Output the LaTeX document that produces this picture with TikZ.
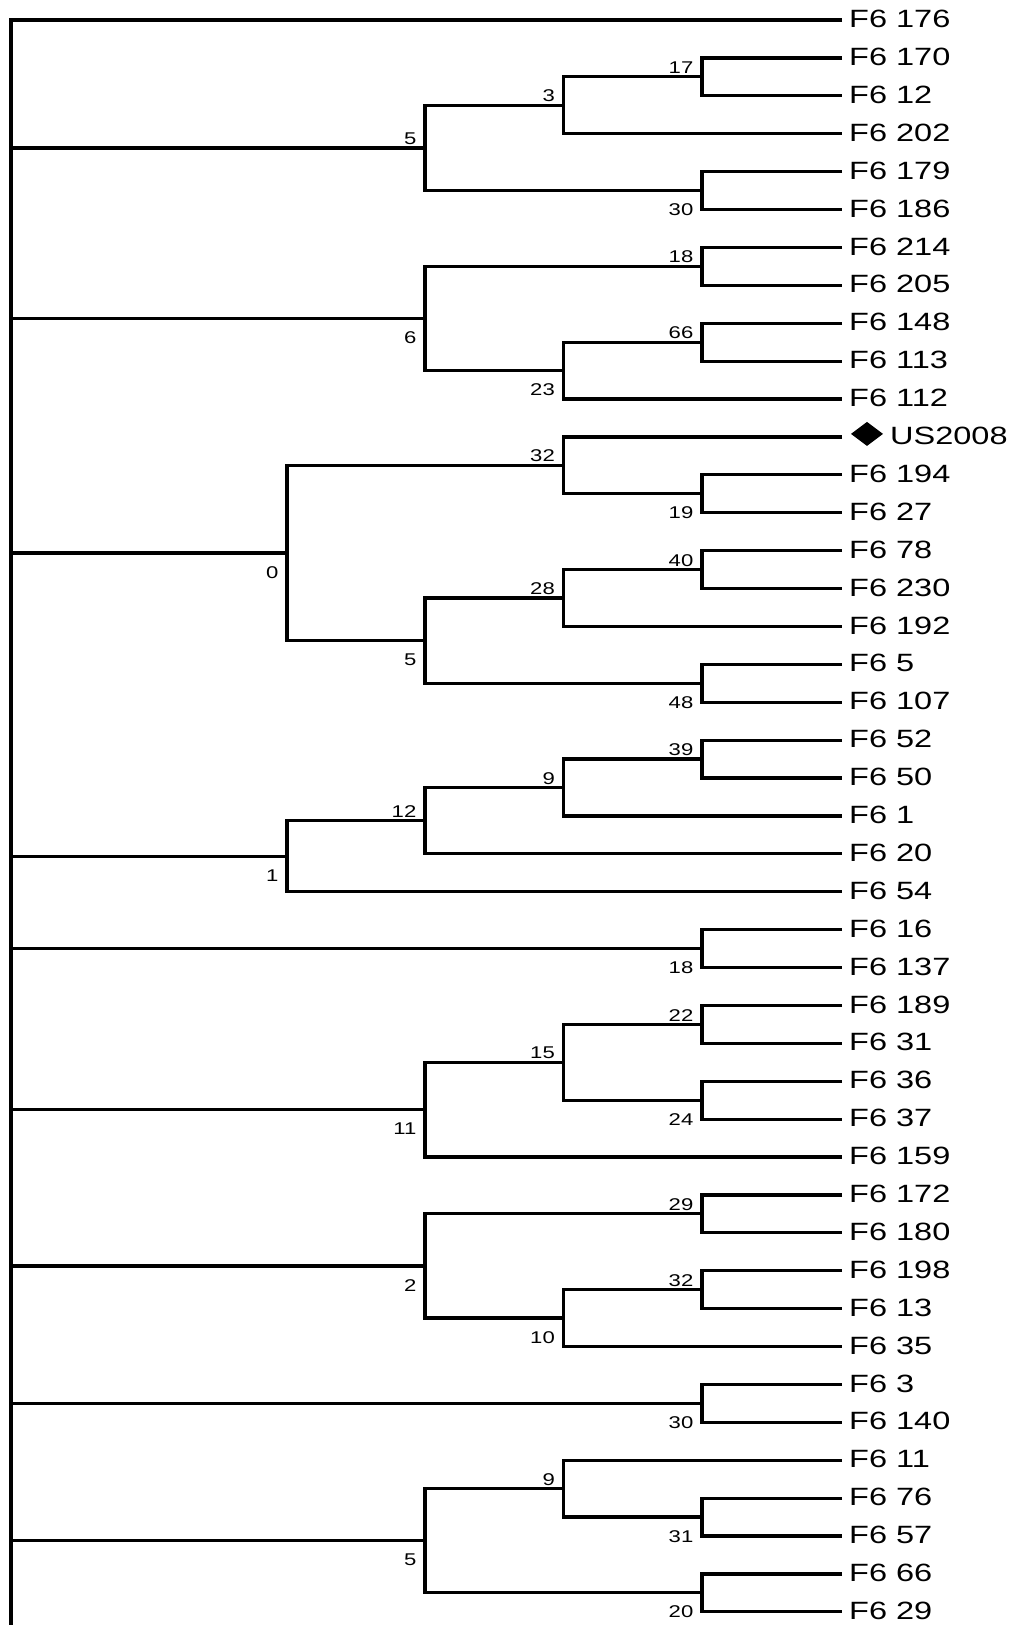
\documentclass[tikz,border=0pt]{standalone}
\usepackage{fontspec}
\newfontfamily\leaffont[FakeStretch=1.3]{Liberation Sans}
\begin{document}
\begin{tikzpicture}[x=1pt,y=-1pt,
  branch/.style={line width=3.2pt,line join=miter,line cap=butt},
  rootline/.style={line width=3.6pt,line cap=rect},
  leaflab/.style={anchor=west,inner sep=0pt,font=\leaffont\fontsize{25}{25}\selectfont},
  bsup/.style={anchor=south east,inner sep=0pt,font=\leaffont\fontsize{17}{17}\selectfont},
  bsdn/.style={anchor=north east,inner sep=0pt,font=\leaffont\fontsize{17}{17}\selectfont}]
\useasboundingbox (0,0) rectangle (1016,1625);
\fill[white] (0,0) rectangle (1016,1625);
% leaves
\foreach \lab/\dx [count=\i from 0] in {F6 176/0,F6 170/0,F6 12/0,F6 202/0,F6 179/0,F6 186/0,F6 214/0,F6 205/0,F6 148/0,F6 113/0,F6 112/0,US2008/41,F6 194/0,F6 27/0,F6 78/0,F6 230/0,F6 192/0,F6 5/0,F6 107/0,F6 52/0,F6 50/0,F6 1/0,F6 20/0,F6 54/0,F6 16/0,F6 137/0,F6 189/0,F6 31/0,F6 36/0,F6 37/0,F6 159/0,F6 172/0,F6 180/0,F6 198/0,F6 13/0,F6 35/0,F6 3/0,F6 140/0,F6 11/0,F6 76/0,F6 57/0,F6 66/0,F6 29/0}{
  \coordinate (l\i) at (842,{20+37.9*\i});
  \node[leaflab] (t\i) at (849+\dx,{19+37.9*\i}) {\lab};
}
\coordinate (dm) at (867,{17+37.9*11});
\fill (dm) +(-16,0) -- +(0,-12) -- +(16,0) -- +(0,12) -- cycle;
% internal nodes
\def\yy#1{{20+37.9*#1}}
\coordinate (nC) at (702,\yy{1.5});
\coordinate (nB) at (563.5,\yy{2.25});
\coordinate (nD) at (702,\yy{4.5});
\coordinate (nA) at (425,\yy{3.375});
\coordinate (nF) at (702,\yy{6.5});
\coordinate (nH) at (702,\yy{8.5});
\coordinate (nG) at (563.5,\yy{9.25});
\coordinate (nE) at (425,\yy{7.875});
\coordinate (nK) at (702,\yy{12.5});
\coordinate (nJ) at (563.5,\yy{11.75});
\coordinate (nN) at (702,\yy{14.5});
\coordinate (nM) at (563.5,\yy{15.25});
\coordinate (nO) at (702,\yy{17.5});
\coordinate (nL) at (425,\yy{16.375});
\coordinate (nI) at (287,\yy{14.0625});
\coordinate (nS) at (702,\yy{19.5});
\coordinate (nR) at (563.5,\yy{20.25});
\coordinate (nQ) at (425,\yy{21.125});
\coordinate (nP) at (287,\yy{22.0625});
\coordinate (nT) at (702,\yy{24.5});
\coordinate (nW) at (702,\yy{26.5});
\coordinate (nX) at (702,\yy{28.5});
\coordinate (nV) at (563.5,\yy{27.5});
\coordinate (nU) at (425,\yy{28.75});
\coordinate (nZ) at (702,\yy{31.5});
\coordinate (nAB) at (702,\yy{33.5});
\coordinate (nAA) at (563.5,\yy{34.25});
\coordinate (nY) at (425,\yy{32.875});
\coordinate (nAC) at (702,\yy{36.5});
\coordinate (nAF) at (702,\yy{39.5});
\coordinate (nAE) at (563.5,\yy{38.75});
\coordinate (nAG) at (702,\yy{41.5});
\coordinate (nAD) at (425,\yy{40.125});
\coordinate (rt) at (11,20);
\coordinate (rb) at (11,1650);
% branches
\draw[branch] (l1) -| (nC) |- (l2);
\draw[branch] (nC) -| (nB) |- (l3);
\draw[branch] (l4) -| (nD) |- (l5);
\draw[branch] (nB) -| (nA) |- (nD);
\draw[branch] (l6) -| (nF) |- (l7);
\draw[branch] (l8) -| (nH) |- (l9);
\draw[branch] (nH) -| (nG) |- (l10);
\draw[branch] (nF) -| (nE) |- (nG);
\draw[branch] (l12) -| (nK) |- (l13);
\draw[branch] (l11) -| (nJ) |- (nK);
\draw[branch] (l14) -| (nN) |- (l15);
\draw[branch] (nN) -| (nM) |- (l16);
\draw[branch] (l17) -| (nO) |- (l18);
\draw[branch] (nM) -| (nL) |- (nO);
\draw[branch] (nJ) -| (nI) |- (nL);
\draw[branch] (l19) -| (nS) |- (l20);
\draw[branch] (nS) -| (nR) |- (l21);
\draw[branch] (nR) -| (nQ) |- (l22);
\draw[branch] (nQ) -| (nP) |- (l23);
\draw[branch] (l24) -| (nT) |- (l25);
\draw[branch] (l26) -| (nW) |- (l27);
\draw[branch] (l28) -| (nX) |- (l29);
\draw[branch] (nW) -| (nV) |- (nX);
\draw[branch] (nV) -| (nU) |- (l30);
\draw[branch] (l31) -| (nZ) |- (l32);
\draw[branch] (l33) -| (nAB) |- (l34);
\draw[branch] (nAB) -| (nAA) |- (l35);
\draw[branch] (nZ) -| (nY) |- (nAA);
\draw[branch] (l36) -| (nAC) |- (l37);
\draw[branch] (l39) -| (nAF) |- (l40);
\draw[branch] (l38) -| (nAE) |- (nAF);
\draw[branch] (l41) -| (nAG) |- (l42);
\draw[branch] (nAE) -| (nAD) |- (nAG);
% root
\draw[branch] (l0) -- (rt);
\foreach \n in {nA,nE,nI,nP,nT,nU,nY,nAC,nAD}{
  \draw[branch] (\n) -- (\n -| rt);
}
\draw[rootline] (rt) -- (rb);
% bootstrap labels
\node[bsup] (bC) at ([shift={(-8.5,-3)}]nC) {17};
\node[bsup] (bB) at ([shift={(-8.5,-3)}]nB) {3};
\node[bsdn] (bD) at ([shift={(-8.5,13)}]nD) {30};
\node[bsup] (bA) at ([shift={(-8.5,-3)}]nA) {5};
\node[bsup] (bF) at ([shift={(-8.5,-3)}]nF) {18};
\node[bsup] (bH) at ([shift={(-8.5,-3)}]nH) {66};
\node[bsdn] (bG) at ([shift={(-8.5,13)}]nG) {23};
\node[bsdn] (bE) at ([shift={(-8.5,13)}]nE) {6};
\node[bsdn] (bK) at ([shift={(-8.5,13)}]nK) {19};
\node[bsup] (bJ) at ([shift={(-8.5,-3)}]nJ) {32};
\node[bsup] (bN) at ([shift={(-8.5,-3)}]nN) {40};
\node[bsup] (bM) at ([shift={(-8.5,-3)}]nM) {28};
\node[bsdn] (bO) at ([shift={(-8.5,13)}]nO) {48};
\node[bsdn] (bL) at ([shift={(-8.5,13)}]nL) {5};
\node[bsdn] (bI) at ([shift={(-8.5,13)}]nI) {0};
\node[bsup] (bS) at ([shift={(-8.5,-3)}]nS) {39};
\node[bsup] (bR) at ([shift={(-8.5,-3)}]nR) {9};
\node[bsup] (bQ) at ([shift={(-8.5,-3)}]nQ) {12};
\node[bsdn] (bP) at ([shift={(-8.5,13)}]nP) {1};
\node[bsdn] (bT) at ([shift={(-8.5,13)}]nT) {18};
\node[bsup] (bW) at ([shift={(-8.5,-3)}]nW) {22};
\node[bsdn] (bX) at ([shift={(-8.5,13)}]nX) {24};
\node[bsup] (bV) at ([shift={(-8.5,-3)}]nV) {15};
\node[bsdn] (bU) at ([shift={(-8.5,13)}]nU) {11};
\node[bsup] (bZ) at ([shift={(-8.5,-3)}]nZ) {29};
\node[bsup] (bAB) at ([shift={(-8.5,-3)}]nAB) {32};
\node[bsdn] (bAA) at ([shift={(-8.5,13)}]nAA) {10};
\node[bsdn] (bY) at ([shift={(-8.5,13)}]nY) {2};
\node[bsdn] (bAC) at ([shift={(-8.5,13)}]nAC) {30};
\node[bsdn] (bAF) at ([shift={(-8.5,13)}]nAF) {31};
\node[bsup] (bAE) at ([shift={(-8.5,-3)}]nAE) {9};
\node[bsdn] (bAG) at ([shift={(-8.5,13)}]nAG) {20};
\node[bsdn] (bAD) at ([shift={(-8.5,13)}]nAD) {5};
\end{tikzpicture}
\end{document}
